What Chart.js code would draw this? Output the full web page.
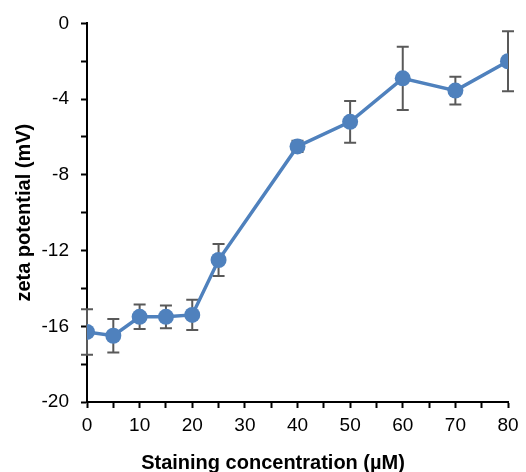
<!DOCTYPE html>
<html>
<head>
<meta charset="utf-8">
<script src="https://cdn.jsdelivr.net/npm/chart.js@4/dist/chart.umd.min.js"></script>
<style>
  html, body { margin: 0; padding: 0; background: #fff; }
  #wrap { width: 526px; height: 472px; }
</style>
</head>
<body>
<div id="wrap"><canvas id="grafico" width="526" height="472"></canvas></div>
<script>
// datos
var concentraciones = [0, 5, 10, 15, 20, 25, 40, 50, 60, 70, 80];
var zeta = [-16.3, -16.5, -15.5, -15.5, -15.4, -12.5, -6.5, -5.2, -2.9, -3.55, -2.0];
var errores = [1.2, 0.88, 0.65, 0.6, 0.8, 0.84, 0.3, 1.1, 1.67, 0.73, 1.58];
var tituloX = 'Staining concentration (µM)';
var tituloY = 'zeta potential (mV)';

var puntos = [];
for (var i in concentraciones) {
    puntos.push({ x: concentraciones[i], y: zeta[i] });
}

var fuente = "'Liberation Sans', Arial, sans-serif";

// barras de error dibujadas con las escalas del grafico
var barrasError = {
    id: 'barrasError',
    beforeDatasetsDraw: function (chart) {
        var ctx = chart.ctx;
        var xs = chart.scales.x;
        var ys = chart.scales.y;
        ctx.save();
        ctx.strokeStyle = '#595959';
        ctx.lineWidth = 2;
        for (var i in concentraciones) {
            var px = xs.getPixelForValue(concentraciones[i]);
            var top = ys.getPixelForValue(zeta[i] + errores[i]);
            var bot = ys.getPixelForValue(zeta[i] - errores[i]);
            ctx.beginPath();
            ctx.moveTo(px, top);
            ctx.lineTo(px, bot);
            ctx.moveTo(px - 6, top);
            ctx.lineTo(px + 6, top);
            ctx.moveTo(px - 6, bot);
            ctx.lineTo(px + 6, bot);
            ctx.stroke();
        }
        ctx.restore();
    }
};

// titulo del eje x (un poco a la izquierda, como en el original)
var tituloEjeX = {
    id: 'tituloEjeX',
    afterDraw: function (chart) {
        var ctx = chart.ctx;
        ctx.save();
        ctx.fillStyle = '#000';
        ctx.font = 'bold 20px ' + fuente;
        ctx.textAlign = 'center';
        ctx.textBaseline = 'middle';
        ctx.fillText(tituloX, 273, 463);
        ctx.restore();
    }
};

new Chart(document.getElementById('grafico'), {
    type: 'scatter',
    data: {
        datasets: [{
            data: puntos,
            showLine: true,
            borderColor: '#4F81BD',
            backgroundColor: '#4F81BD',
            borderWidth: 3.5,
            pointRadius: 8,
            pointHoverRadius: 8,
            pointBorderWidth: 0
        }]
    },
    options: {
        responsive: false,
        animation: false,
        layout: {
            padding: { top: 19, right: 18, left: 0, bottom: 0 }
        },
        plugins: {
            legend: { display: false },
            tooltip: { enabled: false }
        },
        scales: {
            x: {
                type: 'linear',
                min: 0,
                max: 80,
                afterFit: function (axis) { axis.height = 70; },
                border: { color: '#000', width: 2 },
                grid: {
                    drawOnChartArea: false,
                    drawTicks: true,
                    tickLength: 6,
                    tickWidth: 2,
                    color: '#000'
                },
                ticks: {
                    stepSize: 5,
                    autoSkip: false,
                    maxRotation: 0,
                    color: '#000',
                    padding: 6,
                    font: { family: fuente, size: 19 },
                    callback: function (v) { return v % 10 === 0 ? v : ''; }
                }
            },
            y: {
                min: -20,
                max: 0,
                afterFit: function (axis) { axis.width = 87; },
                border: { color: '#000', width: 2 },
                grid: {
                    drawOnChartArea: false,
                    drawTicks: true,
                    tickLength: 6,
                    tickWidth: 2,
                    color: '#000'
                },
                ticks: {
                    stepSize: 2,
                    autoSkip: false,
                    color: '#000',
                    padding: 12,
                    font: { family: fuente, size: 19 },
                    callback: function (v) { return v % 4 === 0 ? v : ''; }
                },
                title: {
                    display: true,
                    text: tituloY,
                    color: '#000',
                    padding: { top: 12, bottom: 0 },
                    font: { family: fuente, size: 20, weight: 'bold' }
                }
            }
        }
    },
    plugins: [barrasError, tituloEjeX]
});
</script>
</body>
</html>
